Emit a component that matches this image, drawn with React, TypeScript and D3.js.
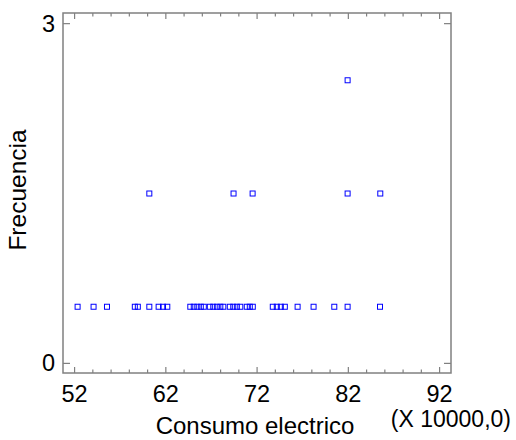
import React, { useEffect, useRef } from "react";
import * as d3 from "d3";

// consumo electrico (X 10000,0), one array per stacked row of the dot diagram
const row1 = [
  52.33, 54.08, 55.55, 58.6, 58.93, 60.19, 61.21, 61.69, 62.16,
  64.68, 65.06, 65.45, 65.83, 66.16, 66.82, 67.2, 67.59, 67.97, 68.3,
  69.01, 69.39, 69.78, 70.16, 70.87, 71.2, 71.53,
  73.72, 74.16, 74.6, 75.04, 76.44, 78.19, 80.46, 81.92, 85.47,
];
const row2 = [60.19, 69.42, 71.51, 81.92, 85.5];
const row3 = [81.92];

const xTicks = [52, 62, 72, 82, 92];
const yTicks = [0, 3];

const App = () => {
  const ref = useRef<SVGSVGElement>(null);

  useEffect(() => {
    const svg = d3.select(ref.current);
    svg.selectAll("*").remove();

    const left = 63, right = 451, top = 13, bottom = 373;
    const font = "'Liberation Sans', Arial, sans-serif";
    const frameColor = "#808080";

    const x = d3.scaleLinear().domain([50.73, 93.25]).range([left, right]);
    const y = d3.scaleLinear().domain([-0.085, 3.094]).range([bottom, top]);

    const g = svg.append("g");

    // frame
    g.append("rect")
      .attr("x", left).attr("y", top)
      .attr("width", right - left).attr("height", bottom - top)
      .attr("fill", "none").attr("stroke", frameColor).attr("stroke-width", 1.5);

    // x ticks every 2 units, major every 10, on bottom and top edges
    const minor = d3.range(52, 93, 2);
    minor.forEach(v => {
      const len = xTicks.includes(v) ? 6 : 3.5;
      g.append("line")
        .attr("x1", x(v)).attr("x2", x(v))
        .attr("y1", bottom).attr("y2", bottom - len)
        .attr("stroke", frameColor).attr("stroke-width", 1.2);
      g.append("line")
        .attr("x1", x(v)).attr("x2", x(v))
        .attr("y1", top).attr("y2", top + len)
        .attr("stroke", frameColor).attr("stroke-width", 1.2);
    });

    // y ticks on both sides
    yTicks.forEach(v => {
      g.append("line")
        .attr("x1", left).attr("x2", left + 7)
        .attr("y1", y(v)).attr("y2", y(v))
        .attr("stroke", frameColor).attr("stroke-width", 1.2);
      g.append("line")
        .attr("x1", right).attr("x2", right - 7)
        .attr("y1", y(v)).attr("y2", y(v))
        .attr("stroke", frameColor).attr("stroke-width", 1.2);
    });

    // tick labels
    g.selectAll(".xl")
      .data(xTicks)
      .enter()
      .append("text")
      .attr("x", d => x(d))
      .attr("y", 402)
      .attr("text-anchor", "middle")
      .attr("font-family", font)
      .attr("font-size", 23.5)
      .attr("fill", "#000")
      .text(d => d);

    g.selectAll(".yl")
      .data(yTicks)
      .enter()
      .append("text")
      .attr("x", 55)
      .attr("y", d => y(d) + 8)
      .attr("text-anchor", "end")
      .attr("font-family", font)
      .attr("font-size", 23.5)
      .attr("fill", "#000")
      .text(d => d);

    // axis titles
    g.append("text")
      .attr("x", 255)
      .attr("y", 434)
      .attr("text-anchor", "middle")
      .attr("font-family", font)
      .attr("font-size", 24)
      .text("Consumo electrico");

    g.append("text")
      .attr("x", 511)
      .attr("y", 427)
      .attr("text-anchor", "end")
      .attr("font-family", font)
      .attr("font-size", 23)
      .text("(X 10000,0)");

    g.append("text")
      .attr("transform", `translate(26,190) rotate(-90)`)
      .attr("text-anchor", "middle")
      .attr("font-family", font)
      .attr("font-size", 24.5)
      .text("Frecuencia");

    // points
    const rows = [row1, row2, row3];
    rows.forEach((vals, i) => {
      g.selectAll(`.p${i}`)
        .data(vals)
        .enter()
        .append("rect")
        .attr("x", d => x(d) - 2.5)
        .attr("y", y(i + 0.5) - 2.5)
        .attr("width", 5)
        .attr("height", 5)
        .attr("fill", "none")
        .attr("stroke", "#0000ff")
        .attr("stroke-width", 1);
    });
  }, []);

  return (
    <svg
      ref={ref}
      width={516}
      height={440}
      style={{ position: "absolute", left: 0, top: 0, background: "#fff" }}
    ></svg>
  );
};

export default App;
